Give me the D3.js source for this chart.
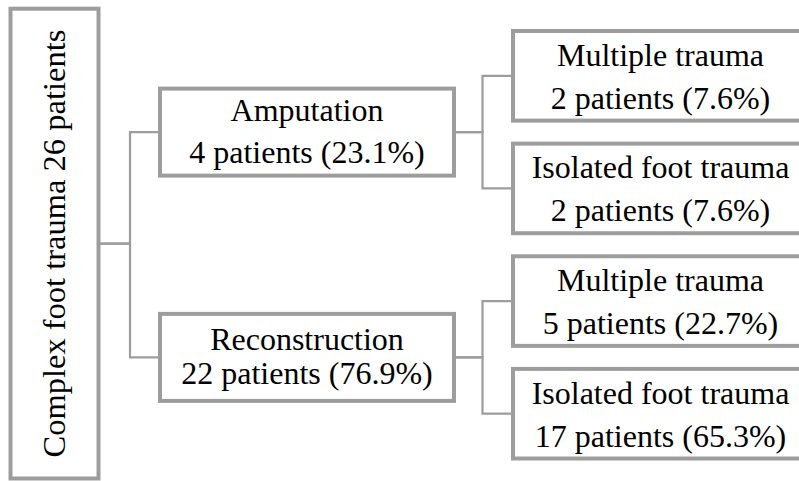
<!DOCTYPE html>
<html>
<head>
<meta charset="utf-8">
<script src="https://cdn.jsdelivr.net/npm/d3@7"></script>
<style>
  html, body { margin: 0; padding: 0; background: #fff; }
  svg { display: block; }
  svg text { font-family: "Times New Roman", "Liberation Serif", Tinos, "DejaVu Serif", serif; }
</style>
</head>
<body>
<svg id="chart" width="799" height="481"></svg>
<script>
// ---- data ----
const nodeIds     = ["root", "amp", "rec", "ampMulti", "ampIso", "recMulti", "recIso"];
const parentIds   = [null, "root", "root", "amp", "amp", "rec", "rec"];
const nodeNames   = ["Complex foot trauma", "Amputation", "Reconstruction",
                     "Multiple trauma", "Isolated foot trauma", "Multiple trauma", "Isolated foot trauma"];
const patients    = [26, 4, 22, 2, 2, 5, 17];
const percents    = [null, 23.1, 76.9, 7.6, 7.6, 22.7, 65.3];

// ---- layout constants ----
const W = 799, H = 481;
const levelX  = [10.5, 160, 513];    // left edge of box per depth
const levelW  = [88, 294, 295];      // box width per depth
const elbowX  = [130, 482.5];        // x of vertical connector after each depth
const rootY0 = 8.7, rootY1 = 478.5;
const boxStroke = "#9d9d9d";
const lineStroke = "#9d9d9d";

const table = nodeIds.map((id, i) => ({
  id, parent: parentIds[i], name: nodeNames[i], n: patients[i], pct: percents[i]
}));
const root = d3.stratify().id(d => d.id).parentId(d => d.parent)(table);

// leaf vertical bands
const leaves = root.leaves();
const yBand = d3.scaleBand()
  .domain(leaves.map(d => d.id))
  .range([31, 458.5])
  .paddingInner(0.2044)
  .paddingOuter(0);

// assign positions
root.eachAfter(node => {
  if (!node.children) {
    node.y0 = yBand(node.id);
    node.y1 = node.y0 + yBand.bandwidth();
    node.cy = (node.y0 + node.y1) / 2;
  } else {
    node.cy = d3.mean(node.children, c => c.cy);
    if (node.depth === 0) { node.y0 = rootY0; node.y1 = rootY1; node.cy = (rootY0 + rootY1) / 2; }
    else { node.y0 = node.cy - 43.5; node.y1 = node.cy + 43.5; }
  }
  node.x0 = levelX[node.depth];
  node.x1 = node.x0 + levelW[node.depth];
});

const svg = d3.select("#chart");
svg.append("rect").attr("width", W).attr("height", H).attr("fill", "#fff");

// connectors
svg.append("g")
  .selectAll("path")
  .data(root.links())
  .join("path")
  .attr("fill", "none")
  .attr("stroke", lineStroke)
  .attr("stroke-width", 2.2)
  .attr("d", l => {
    const s = l.source, t = l.target;
    return `M${s.x1},${s.cy}H${elbowX[s.depth]}V${t.cy}H${t.x0}`;
  });

// boxes
const nodes = svg.append("g")
  .selectAll("g")
  .data(root.descendants())
  .join("g");

nodes.append("rect")
  .attr("x", d => d.x0)
  .attr("y", d => d.y0)
  .attr("width", d => d.x1 - d.x0)
  .attr("height", d => d.y1 - d.y0)
  .attr("fill", "#fff")
  .attr("stroke", boxStroke)
  .attr("stroke-width", 4);

// root label (rotated)
svg.append("text")
  .attr("transform", `translate(65,${root.cy}) rotate(-90)`)
  .attr("text-anchor", "middle")
  .attr("font-size", 32.5)
  .attr("fill", "#000")
  .text(`${root.data.name} ${root.data.n} patients`);

// other labels
const lineOffsets = { amp: [-11, 30.5], rec: [-7.5, 26.5] };
nodes.filter(d => d.depth > 0).each(function(d) {
  const g = d3.select(this);
  const cx = (d.x0 + d.x1) / 2;
  const off = lineOffsets[d.id] || [-10, 33];
  const lines = [d.data.name, `${d.data.n} patients (${d.data.pct}%)`];
  g.selectAll("text")
    .data(lines)
    .join("text")
    .attr("x", cx)
    .attr("y", (t, i) => d.cy + off[i])
    .attr("text-anchor", "middle")
    .attr("font-size", 32)
    .attr("fill", "#000")
    .text(t => t);
});
</script>
</body>
</html>
